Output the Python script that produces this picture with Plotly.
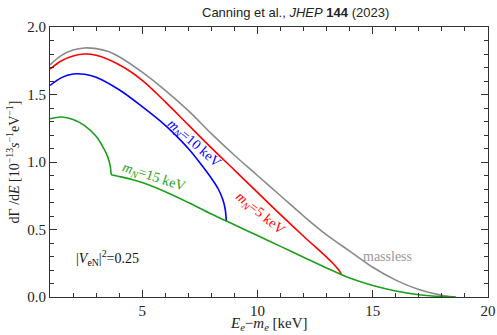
import plotly.graph_objects as go

# Electron kinetic energy grids [keV] and differential decay rates [1e-13 s^-1 eV^-1]
E_massless = [1, 1.5, 2, 2.5, 3, 3.5, 4, 5, 6, 7, 8, 9, 10, 11, 12, 13, 14, 15, 16, 17, 18, 18.6]
rate_massless = [1.72, 1.79, 1.83, 1.845, 1.84, 1.82, 1.78, 1.665, 1.53, 1.38, 1.21, 1.05, 0.90,
                 0.75, 0.60, 0.46, 0.34, 0.22, 0.125, 0.055, 0.012, 0.0]

E_m5 = [1, 1.5, 2, 2.5, 3, 4, 5, 6, 7, 8, 9, 10, 11, 12, 13, 13.3, 13.5, 13.6, 13.64]
rate_m5 = [1.688, 1.75, 1.785, 1.80, 1.79, 1.72, 1.605, 1.445, 1.275, 1.105, 0.94, 0.775, 0.61,
           0.45, 0.295, 0.245, 0.205, 0.18, 0.163]

E_m10 = [1, 1.5, 2, 2.5, 3, 4, 5, 6, 6.5, 7, 7.5, 8, 8.3, 8.5, 8.6, 8.65]
rate_m10 = [1.567, 1.625, 1.652, 1.65, 1.628, 1.535, 1.41, 1.272, 1.19, 1.10, 0.995, 0.88, 0.80,
            0.72, 0.65, 0.559]

E_m15 = [1, 1.5, 2, 2.5, 3, 3.3, 3.5, 3.6, 3.656, 4, 4.5, 5, 6, 7, 8, 9, 10, 11, 12, 13, 14, 15,
         16, 17, 18, 18.6]
rate_m15 = [1.32, 1.333, 1.315, 1.27, 1.19, 1.11, 1.04, 0.98, 0.905, 0.893, 0.873, 0.848, 0.78,
            0.70, 0.615, 0.535, 0.455, 0.375, 0.295, 0.215, 0.14, 0.085, 0.045, 0.017, 0.003, 0.0]
kink_m15 = 3.656  # sterile-neutrino channel closes here

x_ticks = [5, 10, 15, 20]
y_ticks = [0.0, 0.5, 1.0, 1.5, 2.0]

SERIF = "Liberation Serif, Times New Roman, serif"
GRAY, RED, BLUE, GREEN = "#8a8a8a", "#ff0000", "#0000ff", "#1c9e1c"

fig = go.Figure()

def add_curve(xs, ys, color):
    fig.add_trace(go.Scatter(x=xs, y=ys, mode="lines",
                             line=dict(color=color, width=1.6, shape="spline"),
                             showlegend=False, hoverinfo="skip"))

add_curve(E_massless, rate_massless, GRAY)
add_curve(E_m5, rate_m5, RED)
add_curve(E_m10, rate_m10, BLUE)
# split the 15 keV curve at its kink so the smoothing keeps the corner sharp
k = E_m15.index(kink_m15)
add_curve(E_m15[:k + 1], rate_m15[:k + 1], GREEN)
add_curve(E_m15[k:], rate_m15[k:], GREEN)

def label(x, y, text, color, angle=0, size=14):
    fig.add_annotation(x=x, y=y, xref="x", yref="y", text=text, showarrow=False,
                       textangle=angle, font=dict(family=SERIF, size=size, color=color))

label(7.22, 1.135, "<i>m</i><sub><i>N</i></sub>=10 keV", BLUE, 41)
label(5.5, 0.885, "<i>m</i><sub><i>N</i></sub>=15 keV", GREEN, 18)
label(10.1, 0.62, "<i>m</i><sub><i>N</i></sub>=5 keV", RED, 39)
label(15.65, 0.297, "massless", "#999999", 0)
label(3.5, 0.29, "|<i>V</i><sub>eN</sub>|<sup>2</sup>=0.25", "#111111", 0)

# citation line above the frame
fig.add_annotation(x=0.561, y=1.0, xref="paper", yref="paper", yanchor="bottom", yshift=5,
                   text="Canning et al., <i>JHEP</i> <b>144</b> (2023)", showarrow=False,
                   font=dict(family="Liberation Sans, Arial, sans-serif", size=13, color="#222222"))

# x-axis title, placed just under the tick labels
fig.add_annotation(x=0.5, y=0, xref="paper", yref="paper", yanchor="middle", yshift=-27,
                   text="<i>E</i><sub><i>e</i></sub>−<i>m</i><sub><i>e</i></sub> [keV]",
                   showarrow=False, font=dict(family=SERIF, size=15, color="#222222"))

axis_common = dict(showline=True, linecolor="#333333", linewidth=1, mirror="ticks",
                   ticks="inside", ticklen=7, tickwidth=1, tickcolor="#333333",
                   showgrid=False, zeroline=False, automargin=False,
                   tickfont=dict(family=SERIF, size=15, color="#222222"))

fig.update_xaxes(range=[1, 20], tickvals=x_ticks, ticktext=[str(v) for v in x_ticks],
                 minor=dict(dtick=1, tick0=0, ticks="inside", ticklen=4, tickcolor="#333333"),
                 **axis_common)
fig.update_yaxes(range=[0, 2], tickvals=y_ticks, ticktext=[f"{v:.1f}" for v in y_ticks],
                 minor=dict(dtick=0.1, tick0=0, ticks="inside", ticklen=4, tickcolor="#333333"),
                 title=dict(text="dΓ /d<i>E</i> [10<sup>−13</sup><i>s</i><sup>−1</sup>eV<sup>−1</sup>]",
                            font=dict(family=SERIF, size=14, color="#222222"), standoff=4),
                 **axis_common)

fig.update_layout(width=497, height=335, margin=dict(l=50, r=9, t=27, b=38),
                  paper_bgcolor="white", plot_bgcolor="white")

fig.write_html("out.html")
